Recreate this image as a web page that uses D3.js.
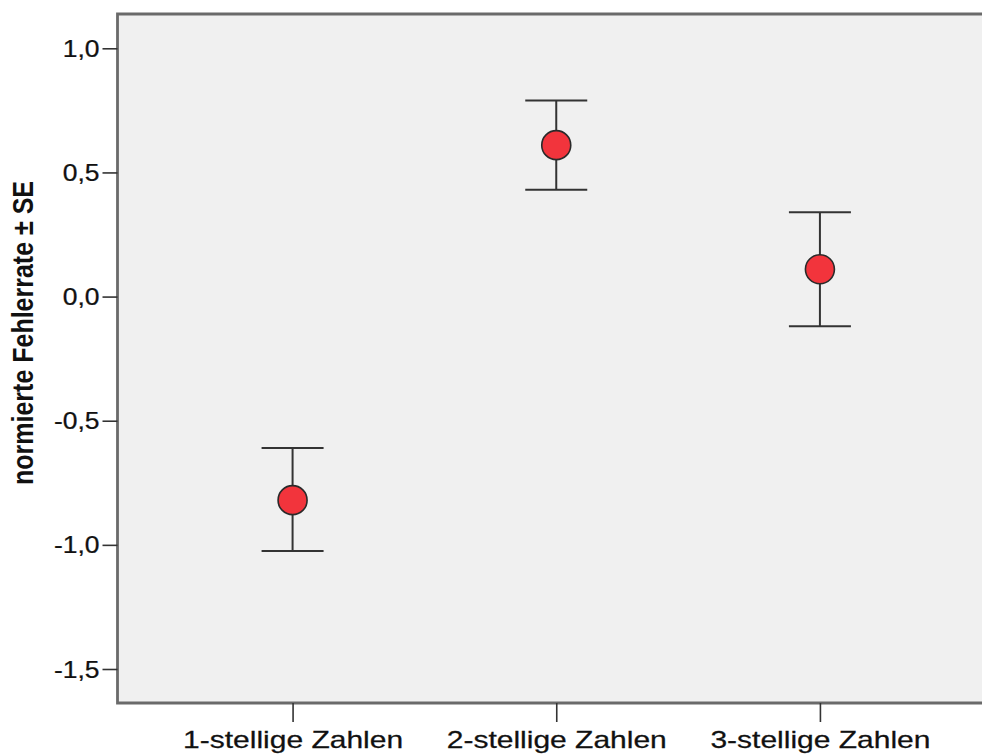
<!DOCTYPE html>
<html>
<head>
<meta charset="utf-8">
<script src="https://cdn.jsdelivr.net/npm/d3@7"></script>
<style>
  html, body { margin: 0; padding: 0; background: #fff; }
  svg { display: block; font-family: Arial, "Liberation Sans", sans-serif; }
</style>
</head>
<body>
<svg id="chart" width="982" height="756"></svg>
<script>
// Error-rate means per number length, with ± 1 standard error
const categories = ["1-stellige Zahlen", "2-stellige Zahlen", "3-stellige Zahlen"];
const means = [-0.82, 0.61, 0.11];
const upper = [-0.61, 0.79, 0.34];
const lower = [-1.025, 0.43, -0.12];
const yTicks = [1.0, 0.5, 0.0, -0.5, -1.0, -1.5];
const yTitle = "normierte Fehlerrate ± SE";

const svg = d3.select("#chart");
const plot = { left: 117.5, top: 14, right: 995, bottom: 703 };

const x = d3.scalePoint()
  .domain(categories)
  .range([plot.left, plot.right])
  .padding(0.664);

const y = d3.scaleLinear()
  .domain([-1.5, 1.0])
  .range([669, 48.3]);

const fmt = d => d3.format(".1f")(d).replace(".", ",").replace("−", "-");

// plot background
svg.append("rect")
  .attr("x", plot.left).attr("y", plot.top)
  .attr("width", plot.right - plot.left).attr("height", plot.bottom - plot.top)
  .attr("fill", "#f0f0f0");

// frame (left, top, bottom)
const frame = "#6a6a6a";
svg.append("path")
  .attr("d", `M${plot.right},${plot.top}H${plot.left}V${plot.bottom}H${plot.right}`)
  .attr("fill", "none").attr("stroke", frame).attr("stroke-width", 2.8);

// y axis
const yAxis = svg.append("g")
  .attr("transform", `translate(${plot.left},0)`)
  .call(d3.axisLeft(y).tickValues(yTicks).tickFormat(fmt).tickSize(15).tickPadding(4));
yAxis.select(".domain").remove();
yAxis.selectAll(".tick line").attr("stroke", "#333").attr("stroke-width", 1.6);
yAxis.selectAll(".tick text")
  .attr("fill", "#111")
  .style("font-size", "23px")
  .attr("dy", "0.35em")
  .attr("x", 0)
  .attr("stroke", "#111").attr("stroke-width", 0.25)
  .attr("transform", "translate(-18,0) scale(1.15,1)");

// x axis
const xAxis = svg.append("g")
  .attr("transform", `translate(0,${plot.bottom})`)
  .call(d3.axisBottom(x).tickSize(19).tickPadding(7));
xAxis.select(".domain").remove();
xAxis.selectAll(".tick line").attr("stroke", "#333").attr("stroke-width", 1.6);
xAxis.selectAll(".tick text")
  .attr("fill", "#111")
  .style("font-size", "24px")
  .attr("y", 0).attr("dy", 0)
  .attr("stroke", "#111").attr("stroke-width", 0.25)
  .attr("transform", "translate(0,45) scale(1.25,1)");

// y title
svg.append("text")
  .attr("transform", `translate(33,333) rotate(-90) scale(1,1.16)`)
  .attr("text-anchor", "middle")
  .style("font-size", "25px")
  .style("font-weight", "bold")
  .attr("fill", "#111")
  .text(yTitle);

// error bars
const rows = categories.map((c, i) => ({ c, m: means[i], hi: upper[i], lo: lower[i] }));
const capHalf = 31;
const bars = svg.append("g").attr("stroke", "#333").attr("stroke-width", 2);
bars.selectAll("line.v").data(rows).join("line")
  .attr("class", "v")
  .attr("x1", d => x(d.c)).attr("x2", d => x(d.c))
  .attr("y1", d => y(d.hi)).attr("y2", d => y(d.lo));
bars.selectAll("line.hi").data(rows).join("line")
  .attr("class", "hi")
  .attr("x1", d => x(d.c) - capHalf).attr("x2", d => x(d.c) + capHalf)
  .attr("y1", d => y(d.hi)).attr("y2", d => y(d.hi));
bars.selectAll("line.lo").data(rows).join("line")
  .attr("class", "lo")
  .attr("x1", d => x(d.c) - capHalf).attr("x2", d => x(d.c) + capHalf)
  .attr("y1", d => y(d.lo)).attr("y2", d => y(d.lo));

// mean markers
svg.append("g").selectAll("circle").data(rows).join("circle")
  .attr("cx", d => x(d.c)).attr("cy", d => y(d.m))
  .attr("r", 14.5)
  .attr("fill", "#f2343c")
  .attr("stroke", "#2a2a2a").attr("stroke-width", 1.6);
</script>
</body>
</html>
